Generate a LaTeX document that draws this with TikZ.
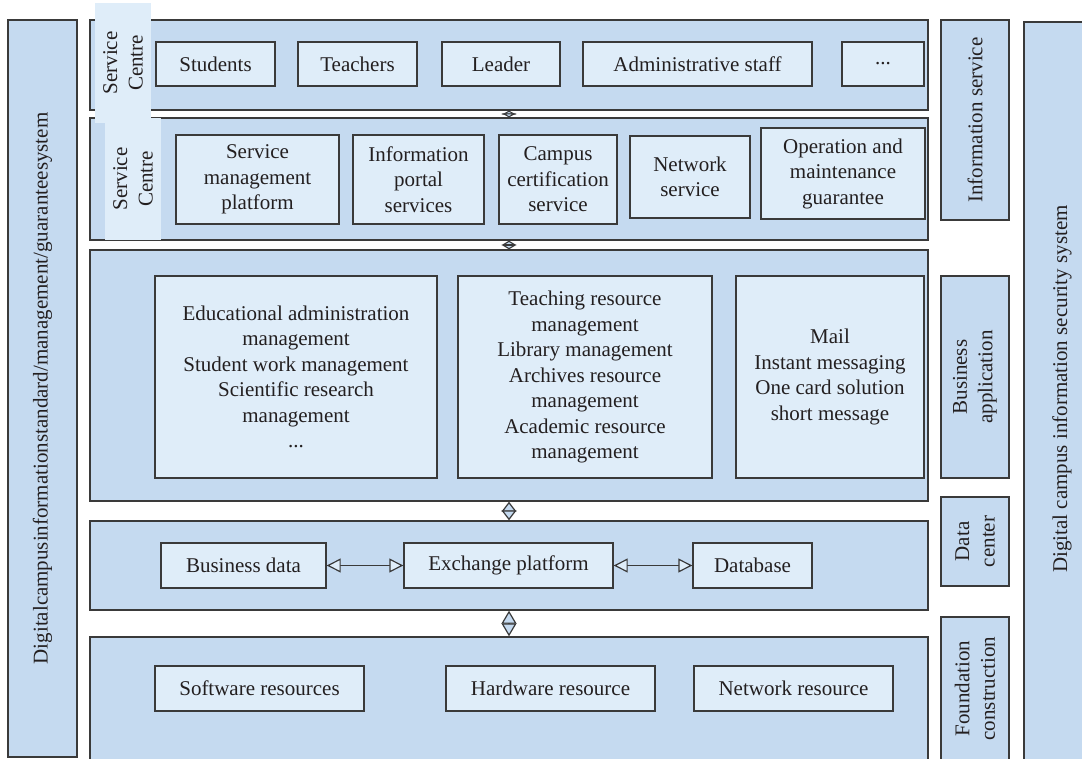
\documentclass[tikz,border=0pt]{standalone}
\usepackage{fontspec}
\setmainfont{Liberation Serif}
\usetikzlibrary{arrows.meta}
\usetikzlibrary{positioning}

\definecolor{layerblue}{HTML}{C5DAF0}
\definecolor{paleblue}{HTML}{DFEDF9}
\definecolor{edgegray}{HTML}{3A3A3A}
\definecolor{inkgray}{HTML}{231F20}

\tikzset{
  layer/.style={rectangle,draw=edgegray,fill=layerblue,line width=1.4pt,minimum width=838pt,inner sep=0pt},
  item/.style={rectangle,draw=edgegray,fill=paleblue,line width=1.4pt,align=center,inner sep=0pt},
  sidebar/.style={rectangle,draw=edgegray,fill=layerblue,line width=1.4pt,align=center,inner sep=0pt},
  tabbox/.style={rectangle,fill=paleblue,align=center,inner sep=0pt},
  vlink/.style={edgegray,line width=1.2pt,{Triangle[fill=layerblue,length=#1,width=15pt]}-{Triangle[fill=layerblue,length=#1,width=15pt]}},
  hlink/.style={edgegray,line width=1.2pt,{Triangle[fill=paleblue,length=14pt,width=14pt]}-{Triangle[fill=paleblue,length=14pt,width=14pt]}}
}

\begin{document}
\begin{tikzpicture}[x=1pt,y=-1pt,font=\fontsize{21pt}{25.5pt}\selectfont,text=inkgray]
\clip (0,0) rectangle (1082,759);
\fill[white] (0,0) rectangle (1082,759);

\node[sidebar,rotate=90,minimum width=737pt,minimum height=69pt] (stdbar) at (42.5,388.5) {Digitalcampusinformationstandard/management/guaranteesystem};

\node[layer,minimum height=90pt] (L1) at (509,65) {};
\node[layer,minimum height=122pt] (L2) at (509,179) {};
\node[layer,minimum height=251pt] (L3) at (509,375.5) {};
\node[layer,minimum height=89pt] (L4) at (509,565.5) {};
\node[layer,minimum height=153pt] (L5) at (509,713.5) {};

\node[tabbox,rotate=90,minimum width=122pt,minimum height=56pt] (tabB) at (133,179) {Service\\Centre};
\node[tabbox,rotate=90,minimum width=120pt,minimum height=56pt] (tabA) at (123,63) {Service\\Centre};

\node[item,minimum width=119pt,minimum height=44pt] (students) at (215.5,64) {Students};
\node[item,minimum width=119pt,minimum height=44pt] (teachers) at (357.5,64) {Teachers};
\node[item,minimum width=118pt,minimum height=44pt] (leader) at (501,64) {Leader};
\node[item,minimum width=229pt,minimum height=44pt] (adminstaff) at (697.5,64) {Administrative staff};
\node[item,minimum width=82pt,minimum height=44pt] (moreusers) at (883,64) {...};

\node[item,minimum width=163pt,minimum height=89pt] (svcmgmt) at (257.5,179.5) {Service\\management\\platform};
\node[item,minimum width=131pt,minimum height=89pt] (portal) at (418.5,179.5) {Information\\portal\\services};
\node[item,minimum width=118pt,minimum height=89pt] (certif) at (558,179.5) {Campus\\certification\\service};
\node[item,minimum width=120pt,minimum height=82pt] (netsvc) at (690,177) {Network\\service};
\node[item,minimum width=164pt,minimum height=91pt] (opsmaint) at (843,173.5) {Operation and\\maintenance\\guarantee};

\node[item,minimum width=282pt,minimum height=202pt] (eduapp) at (296,377) {Educational administration\\management\\Student work management\\Scientific research\\management\\...};
\node[item,minimum width=254pt,minimum height=202pt] (resapp) at (585,377) {Teaching resource\\management\\Library management\\Archives resource\\management\\Academic resource\\management};
\node[item,minimum width=188pt,minimum height=202pt] (msgapp) at (830,377) {Mail\\Instant messaging\\One card solution\\short message};

\node[item,minimum width=165pt,minimum height=45pt] (bizdata) at (243.5,565.5) {Business data};
\node[item,minimum width=209pt,minimum height=45pt] (exchange) at (508.5,565.5) {Exchange platform};
\node[item,minimum width=119pt,minimum height=45pt] (database) at (752.5,565.5) {Database};

\node[item,minimum width=209pt,minimum height=45pt] (software) at (259.5,688.5) {Software resources};
\node[item,minimum width=209pt,minimum height=45pt] (hardware) at (550.5,688.5) {Hardware resource};
\node[item,minimum width=199pt,minimum height=45pt] (network) at (793.5,688.5) {Network resource};

\draw[hlink] (bizdata.east) -- (exchange.west);
\draw[hlink] (exchange.east) -- (database.west);

\draw[vlink=4pt] (L1.south) -- (L2.north);
\draw[vlink=4.5pt] (L2.south) -- (L3.north);
\draw[vlink=10pt] (L3.south) -- (L4.north);
\draw[vlink=13pt] (L4.south) -- (L5.north);

\node[sidebar,rotate=90,minimum width=200pt,minimum height=68pt] (infosvc) at (975,120) {Information service};
\node[sidebar,rotate=90,minimum width=202pt,minimum height=68pt] (bizapp) at (975,377) {Business\\application};
\node[sidebar,rotate=90,minimum width=89pt,minimum height=68pt] (datactr) at (975,541.5) {Data\\center};
\node[sidebar,rotate=90,minimum width=143pt,minimum height=68pt] (foundation) at (975,688.5) {Foundation\\construction};

\node[sidebar,rotate=90,minimum width=780pt,minimum height=76pt] (secbar) at (1062,412) {};
\node[rotate=90] (sectext) at (1062,389) {Digital campus information security system};

\end{tikzpicture}
\end{document}
